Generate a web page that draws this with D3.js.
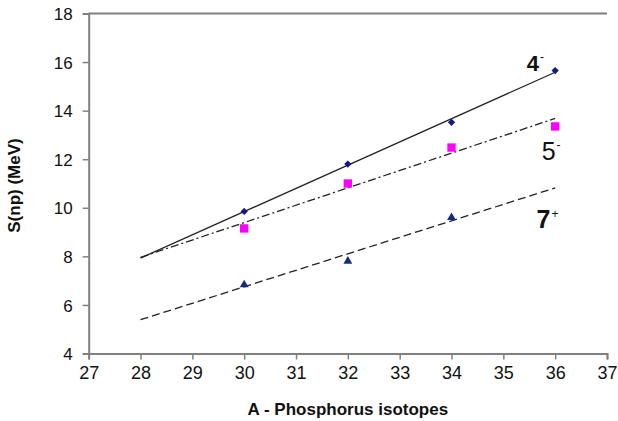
<!DOCTYPE html>
<html>
<head>
<meta charset="utf-8">
<script src="https://cdn.jsdelivr.net/npm/d3@7"></script>
<style>
  body { margin: 0; background: #fff; }
  svg { display: block; font-family: "Liberation Sans", Arial, sans-serif; }
</style>
</head>
<body>
<svg></svg>
<script>
// values
var xTicks = [27, 28, 29, 30, 31, 32, 33, 34, 35, 36, 37];
var yTicks = [4, 6, 8, 10, 12, 14, 16, 18];

var isotopesA = [30, 32, 34, 36];
var sn4minus = [9.85, 11.8, 13.52, 15.65];
var sn5minus = [9.15, 11.0, 12.48, 13.35];
var isotopes7 = [30, 32, 34];
var sn7plus = [6.83, 7.8, 9.6];

// fitted trend lines (end points)
var trendX = [28, 36];
var trend4minus = [7.93, 15.58];
var trend5minus = [7.96, 13.68];
var trend7plus = [5.39, 10.82];

var labelNames = ["4", "5", "7"];
var labelSigns = ["-", "-", "+"];

var margin = {top: 13.5, right: 11, bottom: 67.5, left: 88.7},
    width = 618 - margin.left - margin.right,
    height = 421 - margin.top - margin.bottom;

var svg = d3.select("svg")
    .attr("width", 618)
    .attr("height", 421)
    .append("g")
    .attr("transform", "translate(" + margin.left + "," + margin.top + ")");

var x = d3.scaleLinear().domain([27, 37]).range([0, width]);
var y = d3.scaleLinear().domain([4, 18]).range([height, 0]);

// axes
var xAxis = svg.append("g")
    .attr("transform", "translate(0," + height + ")")
    .call(d3.axisBottom(x).tickValues(xTicks).tickSize(6).tickPadding(7).tickFormat(d3.format("d")));
var yAxis = svg.append("g")
    .call(d3.axisLeft(y).tickValues(yTicks).tickSize(6).tickPadding(10).tickFormat(d3.format("d")));

[xAxis, yAxis].forEach(function(a) {
    a.select(".domain").attr("stroke", "#808080").attr("stroke-width", 2);
    a.selectAll(".tick line").attr("stroke", "#808080").attr("stroke-width", 1.5);
    a.selectAll(".tick text").attr("fill", "#111").style("font-family", "Liberation Sans, Arial, sans-serif");
});
xAxis.selectAll(".tick text").style("font-size", "18px");
yAxis.selectAll(".tick text").style("font-size", "17px").attr("dy", "0.36em");

// top frame line
svg.append("line")
    .attr("x1", x(27)).attr("x2", x(37))
    .attr("y1", y(18)).attr("y2", y(18))
    .attr("stroke", "#808080").attr("stroke-width", 2);

// trend lines
var line = d3.line()
    .x(function(d) { return x(d[0]); })
    .y(function(d) { return y(d[1]); });

var trends = [
    {vals: trend4minus, dash: null},
    {vals: trend5minus, dash: "8,3,2,3"},
    {vals: trend7plus, dash: "8,4"}
];
trends.forEach(function(t) {
    svg.append("path")
        .datum(trendX.map(function(v, i) { return [v, t.vals[i]]; }))
        .attr("d", line)
        .attr("fill", "none")
        .attr("stroke", "#222")
        .attr("stroke-width", 1.3)
        .attr("stroke-dasharray", t.dash);
});

// markers
var series = [
    {xs: isotopesA, ys: sn4minus, sym: d3.symbolDiamond2, size: 34, color: "#101a80"},
    {xs: isotopesA, ys: sn5minus, sym: d3.symbolSquare, size: 70, color: "#ff00ff"},
    {xs: isotopes7, ys: sn7plus, sym: d3.symbolTriangle, size: 34, color: "#142a80"}
];
series.forEach(function(s) {
    svg.selectAll(null)
        .data(s.xs.map(function(v, i) { return [v, s.ys[i]]; }))
        .enter().append("path")
        .attr("d", d3.symbol().type(s.sym).size(s.size))
        .attr("transform", function(d) { return "translate(" + x(d[0]) + "," + y(d[1]) + ")"; })
        .attr("fill", s.color);
});

// series labels next to the right-hand ends
var labelSpots = [
    {x: 35.45, y: 15.65, size: 22, weight: "bold"},
    {x: 35.74, y: 11.98, size: 25, weight: "normal"},
    {x: 35.64, y: 9.15, size: 25, weight: "bold"}
];
labelSpots.forEach(function(p, i) {
    var t = svg.append("text")
        .attr("x", x(p.x))
        .attr("y", y(p.y))
        .attr("fill", "#111")
        .style("font-size", p.size + "px")
        .style("font-weight", p.weight);
    t.append("tspan").text(labelNames[i]);
    t.append("tspan")
        .attr("dx", 1)
        .attr("dy", -p.size * 0.42)
        .style("font-size", "12px")
        .style("font-weight", "normal")
        .text(labelSigns[i]);
});

// axis titles
svg.append("text")
    .attr("x", x(32))
    .attr("y", height + 61)
    .attr("text-anchor", "middle")
    .style("font-size", "17px")
    .style("font-weight", "bold")
    .attr("fill", "#111")
    .text("A - Phosphorus isotopes");

svg.append("text")
    .attr("transform", "rotate(-90)")
    .attr("x", -(y(11) + 2))
    .attr("y", -margin.left + 20)
    .attr("text-anchor", "middle")
    .style("font-size", "17px")
    .style("font-weight", "bold")
    .attr("fill", "#111")
    .text("S(np) (MeV)");
</script>
</body>
</html>
